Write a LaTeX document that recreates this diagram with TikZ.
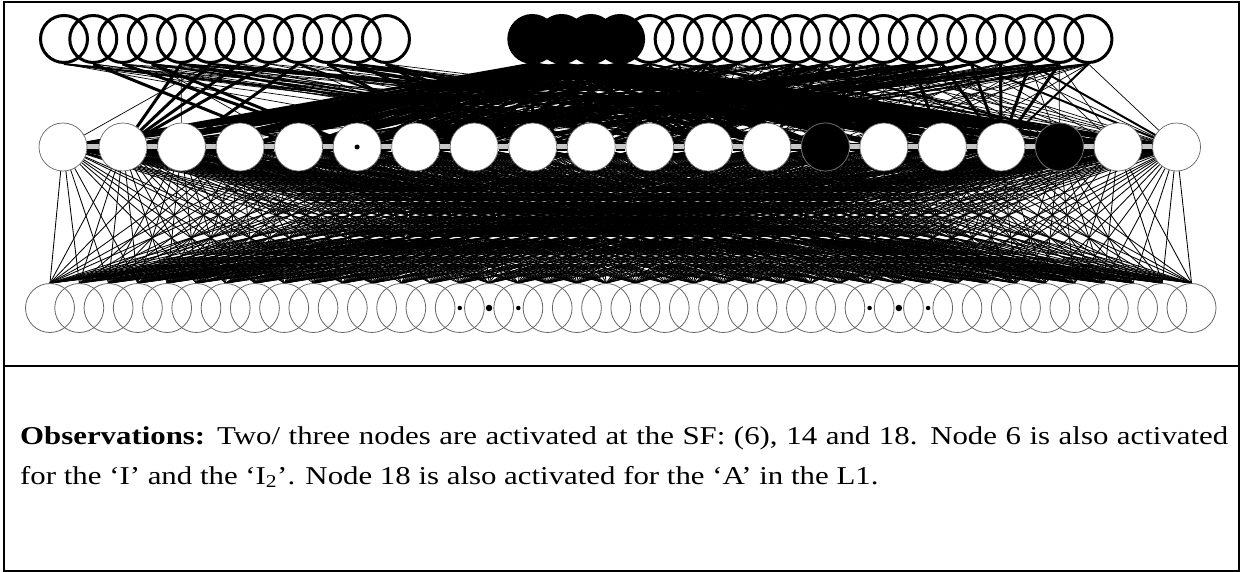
\documentclass[tikz,border=0pt]{standalone}
\usepackage{fontspec}
\setmainfont{Liberation Serif}[FakeStretch=1.2]
\pgfdeclarelayer{links}
\pgfsetlayers{links,main}
\definecolor{barfill}{gray}{0.78}
\tikzset{
  topnode/.style={circle, draw=black, line width=3pt, minimum size=47pt, inner sep=0pt},
  hotnode/.style={topnode, fill=black},
  midnode/.style={circle, draw=black!60, line width=0.7pt, fill=white, minimum size=48pt, inner sep=0pt},
  botnode/.style={circle, draw=black!60, line width=0.8pt, minimum size=49pt, inner sep=0pt},
  finelink/.style={line width=0.7pt},
  lowlink/.style={line width=0.85pt},
  midlink/.style={line width=2pt},
  boldlink/.style={line width=3pt},
  hotlink/.style={line width=3pt},
  barrim/.style={line width=8pt, draw=black},
  barcore/.style={line width=5pt, draw=barfill},
  pip/.style={circle, fill=black, inner sep=0pt, minimum size=#1},
  obs/.style={anchor=base west, inner sep=0pt, font=\fontsize{25.7}{30}\selectfont},
}
\begin{document}
\begin{tikzpicture}[x=1pt,y=-1pt]
\useasboundingbox (0,0) rectangle (1242,572);

% frame and divider
\draw[line width=2pt] (3.5,2.5) rectangle (1238.5,570.5);
\draw[line width=2pt] (3.5,366) -- (1238.5,366);

% top row (inputs), active ones filled
\foreach \k in {0,1,...,11,20,21,...,35}
  \node[topnode] (t\k) at ({64+29.27*\k},39) {};
\foreach \k in {16,17,18,19}
  \node[hotnode] (t\k) at ({64+29.27*\k},39) {};

% middle row
\node[midnode] (m1) at (63,147) {};
\foreach \k in {2,...,20}
  \node[midnode] (m\k) at ({123+58.53*(\k-2)},147) {};
\node[midnode, fill=black] (m14) at ({123+58.53*12},147) {};
\node[midnode, fill=black] (m18) at ({123+58.53*16},147) {};

% bottom row
\foreach \k in {0,...,39}
  \node[botnode] (b\k) at ({50+29.27*\k},308) {};

% activation markers
\node[pip=5pt] (dm6) at (m6.center) {};
\node[pip=4.5pt] (db14) at (b14.center) {};
\node[pip=6.5pt] (db15) at (b15.center) {};
\node[pip=4.5pt] (db16) at (b16.center) {};
\node[pip=4.5pt] (db28) at (b28.center) {};
\node[pip=6.5pt] (db29) at (b29.center) {};
\node[pip=4.5pt] (db30) at (b30.center) {};

\begin{pgfonlayer}{links}
\pgfmathsetseed{2718}
% middle -- bottom weights
\foreach \j in {1,...,20}{
  \foreach \i in {0,...,39}{
    \pgfmathtruncatemacro\on{rnd<0.88}
    \ifnum\on=1 \draw[lowlink] (m\j) -- (b\i.north); \fi
  }
}
% top -- middle weights
\foreach \t in {0,1,...,11,20,21,...,35}{
  \foreach \j in {1,...,20}{
    \pgfmathtruncatemacro\on{rnd < (\t<12 ? (\j>8 ? 0.25 : 0.04) : (\j<5 ? 0.12 : (\j<13 ? 0.4 : 0.45)))}
    \ifnum\on=1 \draw[finelink] (t\t.south) -- (m\j); \fi
    \pgfmathtruncatemacro\big{rnd < (\t<12 ? (\j>8 ? 0.08 : 0) : (\j<5 ? 0.03 : (\j<13 ? 0.28 : 0.05)))}
    \ifnum\big=1 \draw[midlink] (t\t.south) -- (m\j); \fi
  }
}
\foreach \t in {16,17,18,19}
  \foreach \j in {1,...,20}
    \draw[hotlink] (t\t.south) -- (m\j);
\foreach \t/\j in {1/5,2/6,3/6,4/2,5/2,6/2,7/2,8/3,9/8,10/9,11/9,11/10,
                   26/13,27/14,29/16,30/17,31/17,32/17,33/17,34/17}
  \draw[boldlink] (t\t.south) -- (m\j);
% links between neighbouring middle nodes
\foreach \k in {1,...,19}{
  \pgfmathtruncatemacro\n{\k+1}
  \draw[barrim] (m\k.east) -- (m\n.west);
  \draw[barcore] (m\k.east) -- (m\n.west);
}
\end{pgfonlayer}

% notes
\node[obs] (obs1) at (20,444) {\makebox[1208pt][s]{\textbf{Observations:} Two/ three nodes are activated at the SF: (6), 14 and 18. Node 6 is also activated}};
\node[obs] (obs2) at (20,484) {for the ‘I’ and the ‘I\textsubscript{2}’. Node 18 is also activated for the ‘A’ in the L1.};
\end{tikzpicture}
\end{document}
